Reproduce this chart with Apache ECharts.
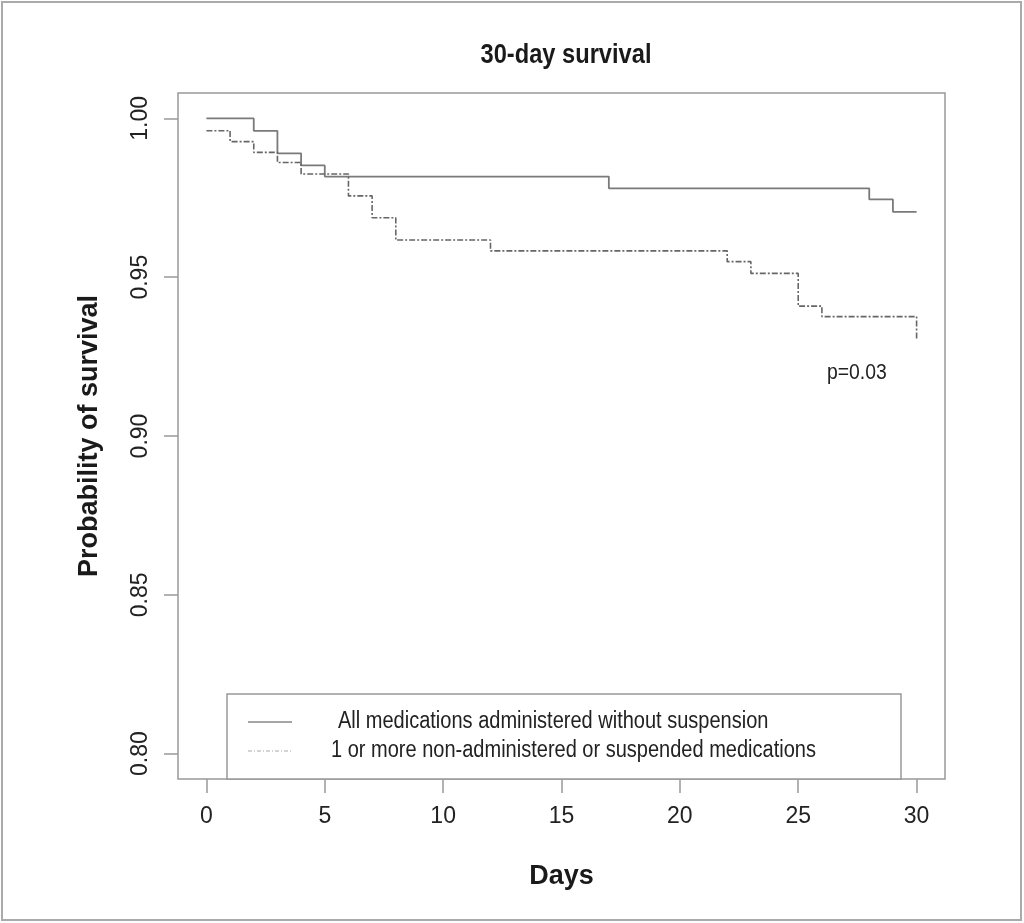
<!DOCTYPE html>
<html>
<head>
<meta charset="utf-8">
<script src="https://cdn.jsdelivr.net/npm/echarts@6/dist/echarts.min.js"></script>
<style>
html,body{margin:0;padding:0;background:#fff;}
#chart{width:1024px;height:923px;}
</style>
</head>
<body>
<div id="chart"></div>
<script>
// ---- data ----
const titleText = '30-day survival';
const xTitle = 'Days';
const yTitle = 'Probability of survival';
const seriesNames = ['All medications administered without suspension', '1 or more non-administered or suspended medications'];
const xTicks = [0, 5, 10, 15, 20, 25, 30];
const yTicks = [0.80, 0.85, 0.90, 0.95, 1.00];
// Kaplan-Meier steps: [day, survival after event]
const solidDays = [0, 2, 3, 4, 5, 17, 28, 29, 30];
const solidSurv = [1.000, 0.9961, 0.9890, 0.9852, 0.9817, 0.9780, 0.9745, 0.9706, 0.9706];
const dashDays = [0, 1, 2, 3, 4, 6, 7, 8, 12, 22, 23, 25, 26, 30];
const dashSurv = [0.9961, 0.9927, 0.9893, 0.9861, 0.9825, 0.9756, 0.9687, 0.9617, 0.9583, 0.9549, 0.9512, 0.9409, 0.9376, 0.9305];
const pText = 'p=0.03';

const FONT = "'Liberation Sans Narrow', 'Arial Narrow', 'Liberation Sans', sans-serif";
const chart = echarts.init(document.getElementById('chart'), null, {renderer: 'canvas'});

const option = {
  animation: false,
  backgroundColor: '#fff',
  grid: {left: 178, right: 79, top: 93, bottom: 144, show: true, borderColor: '#999', borderWidth: 1.5, containLabel: false},
  xAxis: {
    type: 'value', min: -1.2, max: 31.2,
    name: xTitle, nameLocation: 'middle', nameGap: 84,
    nameTextStyle: {fontFamily: FONT, fontSize: 27, fontWeight: 'bold', color: '#1a1a1a'},
    axisLine: {show: false, onZero: false},
    splitLine: {show: false},
    axisTick: {show: true, length: 14, lineStyle: {color: '#999', width: 1.5}, customValues: xTicks},
    axisLabel: {customValues: xTicks, margin: 26, fontFamily: FONT, fontSize: 23, color: '#222'}
  },
  yAxis: {
    type: 'value', min: 0.792, max: 1.008,
    name: yTitle, nameLocation: 'middle', nameGap: 75, nameRotate: 90,
    nameTextStyle: {fontFamily: FONT, fontSize: 27, fontWeight: 'bold', color: '#1a1a1a'},
    axisLine: {show: false, onZero: false},
    splitLine: {show: false},
    axisTick: {show: true, length: 14, lineStyle: {color: '#999', width: 1.5}, customValues: yTicks},
    axisLabel: {customValues: yTicks, margin: 26, rotate: 90, fontFamily: FONT, fontSize: 23, color: '#222',
      formatter: v => v.toFixed(2)}
  },
  series: [
    {
      name: seriesNames[0], type: 'line', step: 'end', symbol: 'none',
      data: solidDays.map((d, i) => [d, solidSurv[i]]),
      lineStyle: {color: '#7a7a7a', width: 1.8, type: 'solid'}
    },
    {
      name: seriesNames[1], type: 'line', step: 'end', symbol: 'none',
      data: dashDays.map((d, i) => [d, dashSurv[i]]),
      lineStyle: {color: '#666', width: 1.6, type: [6, 2, 2, 2]}
    }
  ],
  graphic: [
    {type: 'rect', shape: {x: 2, y: 2, width: 1019, height: 918}, style: {fill: 'none', stroke: '#aaa', lineWidth: 2}, silent: true},
    {type: 'text', x: 566, y: 55, scaleX: 0.845, style: {text: titleText, font: "bold 28px " + FONT, fill: '#1a1a1a', textAlign: 'center', textVerticalAlign: 'middle'}},
    {type: 'rect', shape: {x: 227, y: 694, width: 674, height: 85}, style: {fill: '#fff', stroke: '#999', lineWidth: 1.5}, z: 10},
    {type: 'line', shape: {x1: 248, y1: 722, x2: 292, y2: 722}, style: {stroke: '#888', lineWidth: 1.5}, z: 11},
    {type: 'line', shape: {x1: 248, y1: 751, x2: 292, y2: 751}, style: {stroke: '#aaa', lineWidth: 1.2, lineDash: [4, 2, 1, 2]}, z: 11},
    {type: 'text', x: 338, y: 722, scaleX: 0.87, style: {text: seriesNames[0], font: "23px " + FONT, fill: '#222', textAlign: 'left', textVerticalAlign: 'middle'}, z: 11},
    {type: 'text', x: 331, y: 751, scaleX: 0.87, style: {text: seriesNames[1], font: "23px " + FONT, fill: '#222', textAlign: 'left', textVerticalAlign: 'middle'}, z: 11},
    {type: 'text', x: 827, y: 373, scaleX: 0.88, style: {text: pText, font: "22px " + FONT, fill: '#222', textAlign: 'left', textVerticalAlign: 'middle'}}
  ]
};
chart.setOption(option);
</script>
</body>
</html>
